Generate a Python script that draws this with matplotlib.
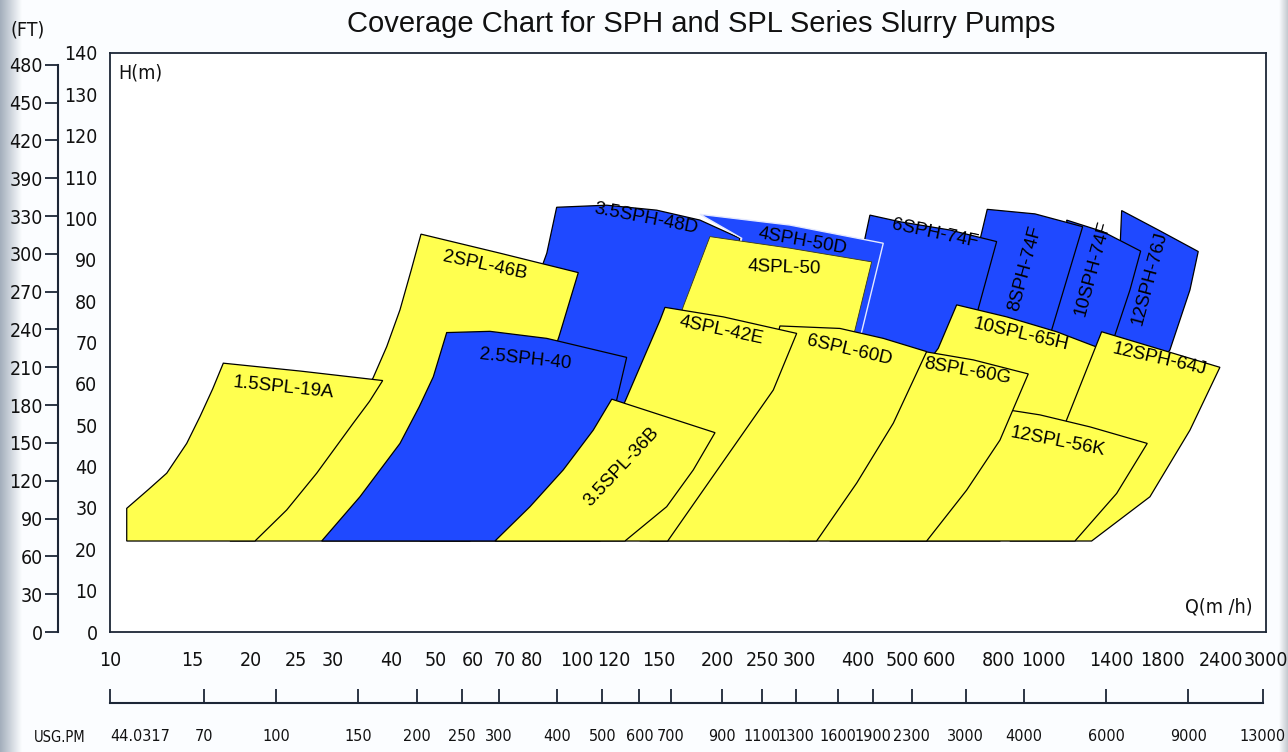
import numpy as np
import matplotlib.pyplot as plt
from matplotlib import font_manager as fm

# colours
YELLOW = '#ffff4f'
BLUE = '#1f49ff'
FRAME = '#1c2636'
ARIAL = ['Liberation Sans', 'DejaVu Sans']

# narrow font for the axis numbers, if one is installed
narrow_files = sorted(
    f.fname for f in fm.fontManager.ttflist
    if ('Condensed' in f.fname or 'Narrow' in f.fname)
    and not any(s in f.fname for s in ('Bold', 'Oblique', 'Italic', 'Light', 'Thin'))
)
if narrow_files:
    NUM_FONT = dict(fname=narrow_files[0])
    NUM_SIZE = 14
else:
    NUM_FONT = dict(family='Roboto')
    NUM_SIZE = 12.5


def num_prop(size=None, weight='medium'):
    p = fm.FontProperties(**NUM_FONT)
    p.set_size(size or NUM_SIZE)
    p.set_weight(weight)
    return p


# === DATA (Q in m3/h, H in m, outlines) ===

q_12sph_76j = [1471.7, 1777.7, 2147.3, 2061.2, 1867.4, 1692.1, 1355.2, 1402.8, 1459.4]
h_12sph_76j = [101.9, 97.0, 92.0, 82.7, 68.2, 62.1, 62.1, 80.3, 92.4]

q_10sph_74f = [1121.8, 1341.9, 1616.1, 1533.3, 1423.7, 1322.2, 983.4, 1007.9, 1085.3, 1140.2]
h_10sph_74f = [99.6, 96.8, 92.1, 82.7, 71.8, 60.9, 60.9, 70.6, 85.1, 94.8]

q_8sph_74f = [758.2, 959.4, 1214.0, 1121.8, 1041.8, 983.4, 662.6, 679.2, 731.4]
h_8sph_74f = [102.2, 101.1, 98.0, 85.1, 73.0, 60.9, 60.9, 73.0, 94.8]

q_6sph_74f = [425.0, 492.9, 630.8, 794.2, 724.2, 646.5, 571.5, 404.6, 375.8, 414.7]
h_6sph_74f = [100.8, 99.2, 97.2, 94.4, 77.9, 60.9, 48.8, 48.8, 73.0, 95.2]

q_35sph_48d = [90.6, 116.0, 148.4, 183.7, 223.8, 202.8, 174.9, 143.6, 112.2, 46.2, 59.1, 68.5, 79.4, 86.3]
h_35sph_48d = [102.7, 103.2, 102.0, 99.6, 95.2, 80.3, 65.8, 48.8, 22, 22, 45.7, 65.8, 80.3, 91.6]

q_4sph_50d = [183.7, 286.4, 453.9, 408.0, 366.6, 301.0, 166.5, 174.9, 197.9, 218.4, 225.7]
h_4sph_50d = [101.0, 98.4, 94.0, 72.6, 56.1, 22, 22, 51.3, 73.0, 87.5, 95.2]

q_4spl_50 = [193.0, 286.4, 428.6, 394.7, 348.9, 286.4, 136.6, 150.9, 169.2]
h_4spl_50 = [95.6, 92.8, 89.5, 73.0, 56.1, 22, 22, 60.9, 78.7]

q_2spl_46b = [18.08, 24.31, 28.89, 33.5, 36.61, 39.17, 41.82, 44.2, 46.39, 68.5, 100.8, 91.64, 79.42, 59.08]
h_2spl_46b = [22, 36.8, 46.4, 55.0, 61.4, 69.0, 77.9, 87.5, 96.2, 91.6, 86.9, 71.4, 51.3, 22]

q_25sph_40 = [28.42, 34.32, 41.82, 46.0, 49.29, 52.66, 65.2, 86.26, 127.97, 121.81, 114.98, 104.18, 92.09]
h_25sph_40 = [22, 32.7, 45.6, 54.5, 61.7, 72.4, 72.7, 71.0, 66.4, 56.1, 46.4, 33.6, 22]

q_15spl_19a = [10.86, 10.86, 12.1, 13.23, 14.60, 15.59, 16.6, 17.49, 25.54, 38.40, 36.0, 33.21, 27.73, 23.91, 20.45]
h_15spl_19a = [22, 29.9, 34.5, 38.4, 45.6, 52.1, 58.8, 65.0, 63.1, 60.8, 55.8, 50.5, 38.4, 29.5, 22]

q_10spl_65h = [652.0, 834.4, 1067.8, 1322.2, 1258.5, 1197.9, 983.4, 807.3, 348.9, 492.9, 595.4]
h_10spl_65h = [79.1, 76.2, 72.6, 68.6, 58.5, 51.3, 36.8, 22, 22, 56.1, 68.6]

q_12sph_64j = [1333.3, 1749.0, 2389.8, 2061.2, 1692.1, 1269.1, 848.1, 983.4, 1121.8]
h_12sph_64j = [72.6, 68.6, 64.0, 48.8, 32.7, 22, 22, 36.8, 51.3]

q_12spl_56k = [787.6, 983.4, 1258.5, 1669.7, 1435.7, 1168.7, 492.9, 630.8]
h_12spl_56k = [54.2, 52.5, 49.6, 45.6, 33.5, 22, 22, 39.2]

q_8spl_60g = [530.7, 707.6, 928.3, 807.3, 684.9, 562.3, 286.4, 425.0]
h_8spl_60g = [68.2, 65.8, 62.4, 46.4, 34.3, 22, 22, 51.3]

q_6spl_60d = [272.6, 366.6, 453.9, 562.3, 477.0, 398.1, 326.7, 143.6, 202.8, 253.2]
h_6spl_60d = [74.0, 73.4, 71.0, 67.8, 50.5, 36.0, 22, 22, 41.6, 58.5]

q_4spl_42e = [154.6, 206.1, 296.1, 263.8, 209.6, 156.7, 92.09, 112.2, 126.9, 150.9]
h_4spl_42e = [78.5, 76.2, 72.2, 58.5, 42.4, 22, 22, 44.0, 55.7, 75.4]

q_35spl_36b = [118.9, 197.9, 177.8, 155.9, 126.9, 66.82, 79.42, 93.60, 108.5]
h_35spl_36b = [56.3, 48.2, 39.2, 30.3, 22, 22, 30.3, 39.2, 48.8]

# axis ticks
q_ticks = [10, 15, 20, 25, 30, 40, 50, 60, 70, 80, 100, 120, 150, 200, 250, 300,
           400, 500, 600, 800, 1000, 1400, 1800, 2400, 3000]
h_ticks = list(range(0, 141, 10))
ft_ticks = list(range(0, 451, 30))
ft_labels = ['0', '30', '60', '90', '120', '150', '180', '210', '240', '270',
             '300', '330', '390', '420', '450', '480']
usg_ticks = [44.0317, 70, 100, 150, 200, 250, 300, 400, 500, 600, 700, 900, 1100,
             1300, 1600, 1900, 2300, 3000, 4000, 6000, 9000, 13000]
GPM_PER_M3H = 4.40317
FT_PER_M = 1 / 0.3048

# draw order: bottom to top
pumps = [
    ('12SPH-76J', q_12sph_76j, h_12sph_76j, BLUE),
    ('10SPH-74F', q_10sph_74f, h_10sph_74f, BLUE),
    ('8SPH-74F', q_8sph_74f, h_8sph_74f, BLUE),
    ('6SPH-74F', q_6sph_74f, h_6sph_74f, BLUE),
    ('3.5SPH-48D', q_35sph_48d, h_35sph_48d, BLUE),
    ('4SPH-50D', q_4sph_50d, h_4sph_50d, BLUE),
    ('4SPL-50', q_4spl_50, h_4spl_50, YELLOW),
    ('2SPL-46B', q_2spl_46b, h_2spl_46b, YELLOW),
    ('2.5SPH-40', q_25sph_40, h_25sph_40, BLUE),
    ('1.5SPL-19A', q_15spl_19a, h_15spl_19a, YELLOW),
    ('10SPL-65H', q_10spl_65h, h_10spl_65h, YELLOW),
    ('12SPH-64J', q_12sph_64j, h_12sph_64j, YELLOW),
    ('12SPL-56K', q_12spl_56k, h_12spl_56k, YELLOW),
    ('8SPL-60G', q_8spl_60g, h_8spl_60g, YELLOW),
    ('6SPL-60D', q_6spl_60d, h_6spl_60d, YELLOW),
    ('4SPL-42E', q_4spl_42e, h_4spl_42e, YELLOW),
    ('3.5SPL-36B', q_35spl_36b, h_35spl_36b, YELLOW),
]

# label anchor (Q, H) and rotation
labels = [
    ('1.5SPL-19A', 23.5, 59.0, -6),
    ('2SPL-46B', 63.6, 88.5, -12),
    ('2.5SPH-40', 77.5, 66.0, -6),
    ('3.5SPH-48D', 140.8, 99.9, -11),
    ('4SPH-50D', 305.4, 94.5, -10),
    ('4SPL-50', 278.1, 88.0, -2),
    ('6SPH-74F', 585.8, 96.2, -12),
    ('8SPH-74F', 913.2, 88.0, 75),
    ('10SPH-74F', 1277, 88.0, 75),
    ('12SPH-76J', 1692, 85.6, 75),
    ('4SPL-42E', 203.8, 72.8, -12),
    ('6SPL-60D', 383.3, 68.2, -13),
    ('10SPL-65H', 895.4, 72.0, -13),
    ('8SPL-60G', 685.9, 63.1, -10),
    ('12SPH-64J', 1777.7, 65.8, -13),
    ('12SPL-56K', 1075, 45.9, -11),
    ('3.5SPL-36B', 125.0, 39.9, 47),
]

# === FIGURE ===
W, H = 1288, 752
fig = plt.figure(figsize=(W / 100, H / 100), dpi=100, facecolor='#fbfdff')

# screenshot shading at the left and right borders (kept behind everything)
grad = np.linspace(0, 1, 64)[None, :]
ax_l = fig.add_axes([0, 0, 22 / W, 1])
ax_l.imshow(grad, aspect='auto', cmap=plt.matplotlib.colors.LinearSegmentedColormap.from_list(
    'l', ['#a3aebb', '#fbfdff']), extent=[0, 1, 0, 1])
ax_l.axis('off')
ax_l.set_zorder(-5)
ax_r = fig.add_axes([1279 / W, 0, 9 / W, 1])
ax_r.imshow(grad, aspect='auto', cmap=plt.matplotlib.colors.LinearSegmentedColormap.from_list(
    'r', ['#fbfdff', '#c4c9cf']), extent=[0, 1, 0, 1])
ax_r.axis('off')
ax_r.set_zorder(-5)

ax = fig.add_axes([110 / W, (H - 632) / H, 1156 / W, 579 / H])
ax.set_facecolor('white')
ax.set_xscale('log')
ax.set_xlim(10, 3000)
ax.set_ylim(0, 140)

for name, q, h, col in pumps:
    if name == '4SPH-50D':
        ec, lw = '#e4e9ff', 1.0
    elif name == '4SPL-50':
        ec, lw = '#3a3a10', 0.6
    else:
        ec, lw = 'black', 0.9
    ax.fill(q, h, facecolor=col, edgecolor=ec, linewidth=lw, joinstyle='miter')

for name, q, h, rot in labels:
    ax.text(q, h, name, rotation=rot, rotation_mode='anchor', ha='center',
            va='center', fontsize=13.5, family=ARIAL, color='black', zorder=5)

ax.set_xticks(q_ticks)
ax.set_xticklabels([str(t) for t in q_ticks])
ax.xaxis.set_minor_locator(plt.NullLocator())
ax.set_yticks(h_ticks)
ax.set_yticklabels([str(t) for t in h_ticks])
ax.tick_params(axis='x', length=0, pad=14, labelcolor='#111111')
ax.tick_params(axis='y', length=0, pad=9, labelcolor='#111111')
for lab in ax.get_xticklabels() + ax.get_yticklabels():
    lab.set_fontproperties(num_prop())
for s in ax.spines.values():
    s.set_color(FRAME)
    s.set_linewidth(1.3)

ax.text(0.007, 0.965, 'H(m)', transform=ax.transAxes, ha='left', va='center',
        fontproperties=num_prop(), color='#111111')
ax.text(0.988, 0.043, 'Q(m /h)', transform=ax.transAxes, ha='right', va='center',
        fontproperties=num_prop(), color='#111111')

# feet axis on the far left
ax_ft = fig.add_axes([58 / W, (H - 632) / H, 0.0005, 579 / H])
ax_ft.set_ylim(0, 140 * FT_PER_M)
ax_ft.set_xticks([])
ax_ft.set_yticks(ft_ticks)
ax_ft.set_yticklabels(ft_labels)
ax_ft.patch.set_alpha(0)
for k in ['top', 'right', 'bottom']:
    ax_ft.spines[k].set_visible(False)
ax_ft.spines['left'].set_bounds(0, 450)
ax_ft.spines['left'].set_color(FRAME)
ax_ft.spines['left'].set_linewidth(1.5)
ax_ft.tick_params(axis='y', length=9.5, width=1.3, color=FRAME, pad=1.5,
                  labelcolor='#111111')
for lab in ax_ft.get_yticklabels():
    lab.set_fontproperties(num_prop())
fig.text(28 / W, 1 - 30 / H, '(FT)', ha='center', va='center',
         fontproperties=num_prop(), color='#111111')

# US gallons per minute axis at the bottom
ax_us = fig.add_axes([110 / W, (H - 703) / H, 1156 / W, 0.0005])
ax_us.set_xscale('log')
ax_us.set_xlim(10 * GPM_PER_M3H, 3000 * GPM_PER_M3H)
ax_us.set_yticks([])
ax_us.set_xticks(usg_ticks)
ax_us.set_xticklabels([str(t) for t in usg_ticks])
ax_us.xaxis.set_minor_locator(plt.NullLocator())
ax_us.patch.set_alpha(0)
for k in ['top', 'right', 'left']:
    ax_us.spines[k].set_visible(False)
ax_us.spines['bottom'].set_bounds(usg_ticks[0], usg_ticks[-1])
ax_us.spines['bottom'].set_color(FRAME)
ax_us.spines['bottom'].set_linewidth(1.5)
ax_us.tick_params(axis='x', direction='in', length=10, width=1.3, color=FRAME,
                  pad=19, labelcolor='#111111')
for lab in ax_us.get_xticklabels():
    lab.set_fontproperties(num_prop(NUM_SIZE - 2.4))
ax_us.get_xticklabels()[0].set_horizontalalignment('left')
fig.text(60 / W, 1 - 737 / H, 'USG.PM', ha='center', va='center',
         fontproperties=num_prop(10.5, 'bold'), color='#111111')

fig.text(701 / W, 1 - 24 / H, 'Coverage Chart for SPH and SPL Series Slurry Pumps',
         ha='center', va='center', fontsize=21, family=ARIAL, color='#111111')

fig.savefig('out.png', dpi=100, facecolor=fig.get_facecolor())
